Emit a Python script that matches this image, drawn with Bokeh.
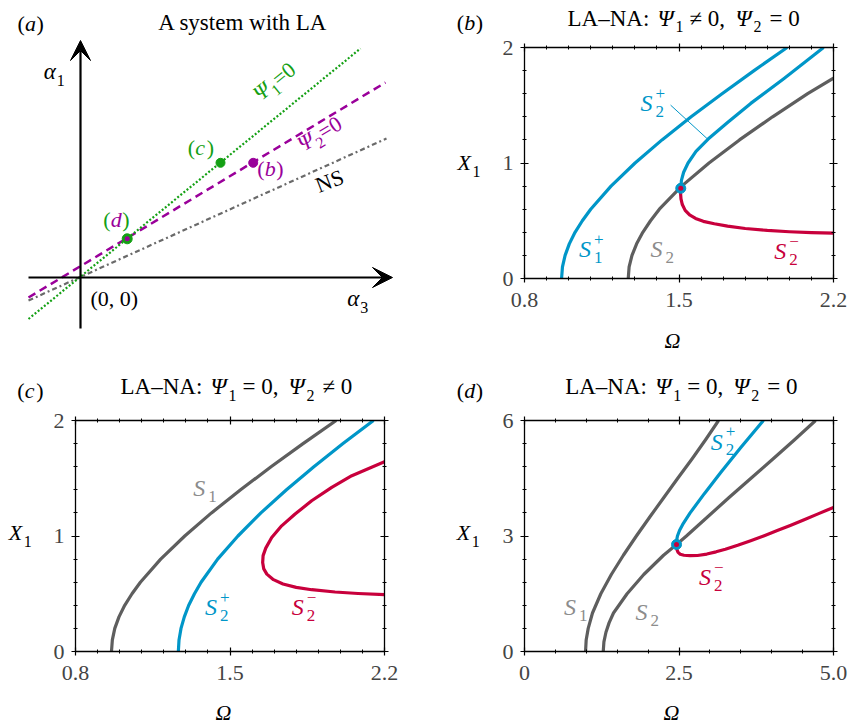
import math
from bokeh.plotting import figure
from bokeh.models import (Range1d, LinearAxis, FixedTicker, CustomJSTickFormatter,
                          Label, Arrow, VeeHead, Spacer)
from bokeh.layouts import row, column
from bokeh.embed import file_html
from bokeh.resources import INLINE

FONT = "Liberation Serif"
BLUE = "#0096c8"
RED = "#c8003c"
DGRAY = "#5e5e5e"
LGRAY = "#8c8c8c"
GREEN = "#14a014"
PURPLE = "#9a009a"
NSGRAY = "#6a6a6a"

# ---------------- data ----------------
# (a) schematic parameter plane (alpha3 horizontal, alpha1 vertical)
axis_alpha3 = [-0.52, 3.12]
axis_alpha1 = [-0.51, 2.37]
psi1_alpha3 = [-0.52, 2.80]
psi1_alpha1 = [-0.415, 2.29]
psi2_alpha3 = [-0.52, 3.05]
psi2_alpha1 = [-0.20, 1.95]
ns_alpha3 = [-0.52, 3.06]
ns_alpha1 = [-0.23, 1.39]
case_b = [1.727, 1.147]
case_c = [1.400, 1.147]
case_d = [0.467, 0.387]

# (b) LA-NA: Psi1 != 0, Psi2 = 0
b_S1p_X = [0, 0.1, 0.2, 0.3, 0.4, 0.5, 0.6, 0.8, 1.0, 1.2, 1.4, 1.6, 1.8, 2.0]
b_S1p_W = [0.968, 0.972, 0.984, 1.003, 1.029, 1.062, 1.100, 1.192, 1.301, 1.423, 1.555, 1.695, 1.840, 1.990]
b_S2_X = [0, 0.1, 0.2, 0.3, 0.4, 0.5, 0.6, 0.8, 1.0, 1.2, 1.4, 1.6, 1.735]
b_S2_W = [1.270, 1.274, 1.287, 1.308, 1.336, 1.371, 1.411, 1.512, 1.636, 1.774, 1.924, 2.083, 2.200]
b_S2p_X = [0.781, 0.85, 0.92, 1.0, 1.1, 1.207, 1.35, 1.516, 1.732, 2.0]
b_S2p_W = [1.508, 1.511, 1.521, 1.541, 1.577, 1.632, 1.720, 1.825, 1.976, 2.155]
b_S2m_W = [1.508, 1.507, 1.509, 1.515, 1.528, 1.548, 1.575, 1.61, 1.66, 1.72, 1.80, 1.90, 2.0, 2.1, 2.2]
b_S2m_X = [0.781, 0.74, 0.69, 0.64, 0.59, 0.55, 0.52, 0.495, 0.474, 0.453, 0.433, 0.416, 0.405, 0.397, 0.392]
b_junction = [1.508, 0.781]
b_leader_W = [1.462, 1.632]
b_leader_X = [1.501, 1.203]

# (c) LA-NA: Psi1 = 0, Psi2 != 0
c_S1_X = [0, 0.1, 0.2, 0.3, 0.4, 0.5, 0.6, 0.8, 1.0, 1.2, 1.4, 1.6, 1.8, 2.0]
c_S1_W = [0.963, 0.967, 0.978, 0.997, 1.023, 1.056, 1.094, 1.186, 1.295, 1.416, 1.548, 1.686, 1.831, 1.981]
c_S2p_X = [0, 0.1, 0.2, 0.3, 0.4, 0.5, 0.6, 0.8, 1.0, 1.2, 1.4, 1.6, 1.8, 2.0]
c_S2p_W = [1.266, 1.269, 1.278, 1.293, 1.313, 1.339, 1.369, 1.444, 1.536, 1.640, 1.756, 1.880, 2.012, 2.150]
c_S2m_W = [2.2, 2.052, 1.961, 1.870, 1.795, 1.734, 1.689, 1.662, 1.650, 1.648, 1.653, 1.667,
           1.697, 1.74, 1.80, 1.87, 1.976, 2.08, 2.2]
c_S2m_X = [1.644, 1.522, 1.421, 1.305, 1.190, 1.088, 0.987, 0.895, 0.83, 0.77, 0.715, 0.670,
           0.622, 0.585, 0.555, 0.535, 0.515, 0.502, 0.492]

# (d) LA-NA: Psi1 = 0, Psi2 = 0
d_S1_X = [0, 0.3, 0.6, 1.0, 1.5, 2.0, 2.5, 3.0, 3.5, 4.0, 4.5, 5.0, 5.5, 6.0]
d_S1_W = [0.988, 0.998, 1.031, 1.100, 1.235, 1.405, 1.600, 1.810, 2.030, 2.255, 2.480, 2.710, 2.930, 3.140]
d_S2_X = [0, 0.25, 0.5, 0.75, 1.0, 1.5, 2.0, 2.5, 2.78, 3.0, 3.5, 4.0, 4.5, 5.0, 5.5, 6.0]
d_S2_W = [1.274, 1.285, 1.318, 1.370, 1.440, 1.660, 1.930, 2.250, 2.460, 2.620, 2.965, 3.310,
          3.665, 4.020, 4.370, 4.710]
d_S2p_X = [2.78, 2.9, 3.0, 3.15, 3.3, 3.6, 4.1, 4.65, 5.3, 6.0]
d_S2p_W = [2.460, 2.463, 2.475, 2.510, 2.560, 2.680, 2.910, 3.175, 3.500, 3.866]
d_S2m_W = [2.46, 2.462, 2.468, 2.485, 2.52, 2.58, 2.68, 2.8, 2.95, 3.1, 3.25, 3.45, 3.66, 3.88,
           4.09, 4.3, 4.525, 4.75, 5.0]
d_S2m_X = [2.78, 2.72, 2.64, 2.575, 2.525, 2.50, 2.49, 2.494, 2.531, 2.589, 2.657, 2.759, 2.877,
           3.009, 3.140, 3.275, 3.424, 3.575, 3.744]
d_junction = [2.46, 2.78]

# ticks
bc_xticks = [0.8, 1.5, 2.2]
bc_xminor = [0.9, 1.0, 1.1, 1.2, 1.3, 1.4, 1.6, 1.7, 1.8, 1.9, 2.0, 2.1]
bc_yticks = [0, 1, 2]
bc_yminor = [0.2, 0.4, 0.6, 0.8, 1.2, 1.4, 1.6, 1.8]
d_xticks = [0, 2.5, 5.0]
d_xminor = [0.5, 1.0, 1.5, 2.0, 3.0, 3.5, 4.0, 4.5]
d_yticks = [0, 3, 6]
d_yminor = [0.6, 1.2, 1.8, 2.4, 3.6, 4.2, 4.8, 5.4]

MID = 0.30  # distance from baseline to the vertical middle of a text, in em


# ---------------- helpers ----------------
def rich(p, x, y, pieces, angle_deg=0.0):
    """pieces: (dx, dy) offsets in px of each baseline start, relative to (x, y)."""
    a = math.radians(angle_deg)
    ca, sa = math.cos(a), math.sin(a)
    for dx, dy, txt, size, style, col in pieces:
        dyc = dy + MID * size
        p.add_layout(Label(x=x, y=y, x_offset=dx * ca - dyc * sa, y_offset=dx * sa + dyc * ca,
                           text=txt, angle=a, text_font=FONT, text_font_size=f"{size}px",
                           text_font_style=style, text_color=col, text_align="left",
                           text_baseline="middle"))


def s_label(p, x, y, sub, sup, col):
    pieces = [(0, 0, "S", 24, "italic", col), (15, -6, sub, 17, "normal", col)]
    if sup:
        pieces.append((15, 12, sup, 17, "normal", col))
    rich(p, x, y, pieces)


def paren_label(p, x, y, letter, col="black", lcol=None, size=22):
    rich(p, x, y, [(0, 0, "(", size, "normal", col),
                   (7.5, 0, letter, size, "italic", lcol or col),
                   (19, 0, ")", size, "normal", col)])


def title_label(p, x, y, rel1, rel2, drop=7):
    rich(p, x, y, [(0, 0, "LA\u2013NA:", 23, "normal", "black"),
                   (90, 0, "\u03a8", 23, "italic", "black"),
                   (108, -drop, "1", 16, "normal", "black"),
                   (122, 0, rel1 + " 0,", 23, "normal", "black"),
                   (168, 0, "\u03a8", 23, "italic", "black"),
                   (186, -drop, "2", 16, "normal", "black"),
                   (202, 0, rel2 + " 0", 23, "normal", "black")])


def x1_label(p, x, y):
    rich(p, x, y, [(0, 0, "X", 22, "italic", "black"), (15, -7, "1", 16, "normal", "black")])


def omega_label(p, x, y):
    rich(p, x, y, [(0, 0, "\u03a9", 22, "italic", "black")])


def bare(w, h, xr=None, yr=None):
    s = figure(width=w, height=h, x_range=Range1d(*(xr or (0, w))), y_range=Range1d(*(yr or (0, h))),
               output_backend="svg", toolbar_location=None, tools="",
               x_axis_location=None, y_axis_location=None,
               min_border=0, min_border_left=0, min_border_right=0,
               min_border_top=0, min_border_bottom=0)
    s.grid.visible = False
    s.outline_line_color = None
    return s


def style_axis(ax, labels, fmt_code, standoff):
    ax.axis_line_width = 1.3
    ax.major_tick_in = 4
    ax.major_tick_out = 4
    ax.minor_tick_in = 2
    ax.minor_tick_out = 2
    ax.major_tick_line_width = 1.2
    ax.minor_tick_line_width = 1.0
    ax.major_label_text_font = FONT
    if labels:
        ax.major_label_text_font_size = "22px"
        ax.major_label_standoff = standoff
        ax.formatter = CustomJSTickFormatter(code=fmt_code)
    else:
        ax.major_label_text_font_size = "1px"
        ax.major_label_text_color = None
        ax.major_label_standoff = 0
        ax.formatter = CustomJSTickFormatter(code="return ''")


def panel(w, h, xr, yr, xt, xm, yt, ym, xfmt, borders):
    l, r, t, b = borders
    p = figure(width=w, height=h, x_range=Range1d(*xr), y_range=Range1d(*yr),
               output_backend="svg", toolbar_location=None, tools="",
               min_border_left=l, min_border_right=r, min_border_top=t, min_border_bottom=b)
    p.grid.visible = False
    p.outline_line_color = None
    xa = p.below[0]
    ya = p.left[0]
    xa.ticker = FixedTicker(ticks=xt, minor_ticks=xm)
    ya.ticker = FixedTicker(ticks=yt, minor_ticks=ym)
    style_axis(xa, True, xfmt, 10)
    style_axis(ya, True, "return tick.toFixed(0)", 7)
    top = LinearAxis(ticker=FixedTicker(ticks=xt, minor_ticks=xm))
    right = LinearAxis(ticker=FixedTicker(ticks=yt, minor_ticks=ym))
    style_axis(top, False, "", 0)
    style_axis(right, False, "", 0)
    p.add_layout(top, "above")
    p.add_layout(right, "right")
    return p


def left_strip(w, total_h, top_gap, strip_h, x, y_up):
    s = bare(w, strip_h)
    x1_label(s, x, y_up)
    return column(Spacer(width=w, height=top_gap), s,
                  Spacer(width=w, height=total_h - top_gap - strip_h))


LW = 3.2

# ---------------- panel (a) ----------------
pa = bare(426, 366, (-0.80, 3.46), (-0.89, 2.77))
pa.line(ns_alpha3, ns_alpha1, color=NSGRAY, line_width=2.2, line_dash="5 3 2 3")
pa.line(psi2_alpha3, psi2_alpha1, color=PURPLE, line_width=2.5, line_dash="8 5")
pa.line(psi1_alpha3, psi1_alpha1, color=GREEN, line_width=2.2, line_dash="2 2")
pa.add_layout(Arrow(end=VeeHead(size=20, fill_color="black", line_color="black"),
                    x_start=axis_alpha3[0], y_start=0, x_end=axis_alpha3[1], y_end=0,
                    line_width=2.2, line_color="black"))
pa.add_layout(Arrow(end=VeeHead(size=20, fill_color="black", line_color="black"),
                    x_start=0, y_start=axis_alpha1[0], x_end=0, y_end=axis_alpha1[1],
                    line_width=2.2, line_color="black"))
pa.scatter([case_c[0]], [case_c[1]], marker="circle", size=9, fill_color=GREEN, line_color=GREEN)
pa.scatter([case_b[0]], [case_b[1]], marker="circle", size=9, fill_color=PURPLE, line_color=PURPLE)
pa.scatter([case_d[0]], [case_d[1]], marker="circle", size=10, fill_color=GREEN, line_color=GREEN)
pa.scatter([case_d[0]], [case_d[1]], marker="circle", size=5, fill_color=PURPLE, line_color=None)

paren_label(pa, -0.63, 2.477, "a")
rich(pa, 0.778, 2.477, [(0, 0, "A system with LA", 23, "normal", "black")])
rich(pa, -0.367, 1.99, [(0, 0, "\u03b1", 23, "italic", "black"), (13, -7, "1", 16, "normal", "black")])
rich(pa, 2.667, -0.28, [(0, 0, "\u03b1", 23, "italic", "black"), (13, -7, "3", 16, "normal", "black")])
rich(pa, 0.10, -0.28, [(0, 0, "(0, 0)", 22, "normal", "black")])
rich(pa, 1.795, 1.761, [(0, 0, "\u03a8", 22, "italic", GREEN), (16, -6, "1", 16, "normal", GREEN),
                        (24, 0, "=0", 22, "normal", GREEN)], angle_deg=39)
rich(pa, 2.22, 1.26, [(0, 0, "\u03a8", 22, "italic", PURPLE), (16, -6, "2", 16, "normal", PURPLE),
                      (24, 0, "=0", 22, "normal", PURPLE)], angle_deg=31)
rich(pa, 2.383, 0.853, [(0, 0, "NS", 22, "normal", "black")], angle_deg=21)
paren_label(pa, 1.073, 1.237, "c", GREEN)
paren_label(pa, 1.767, 1.027, "b", PURPLE)
paren_label(pa, 0.227, 0.51, "d", GREEN, PURPLE)

# ---------------- panel (b) ----------------
pb = panel(354, 289, (0.8, 2.2), (0, 2), bc_xticks, bc_xminor, bc_yticks, bc_yminor,
           "return tick.toFixed(1)", (28, 17, 13, 45))
pb.line(b_S1p_W, b_S1p_X, color=BLUE, line_width=LW, line_join="round")
pb.line(b_S2_W, b_S2_X, color=DGRAY, line_width=LW, line_join="round")
pb.line(b_S2p_W, b_S2p_X, color=BLUE, line_width=LW, line_join="round")
pb.line(b_S2m_W, b_S2m_X, color=RED, line_width=LW, line_join="round")
pb.line(b_leader_W, b_leader_X, color=BLUE, line_width=1.0)
pb.scatter([b_junction[0]], [b_junction[1]], marker="circle", size=10, fill_color=BLUE, line_color=BLUE)
pb.scatter([b_junction[0]], [b_junction[1]], marker="circle", size=5, fill_color=RED, line_color=None)
s_label(pb, 1.047, 0.190, "1", "+", BLUE)
s_label(pb, 1.326, 1.458, "2", "+", BLUE)
s_label(pb, 1.371, 0.190, "2", None, LGRAY)
s_label(pb, 1.931, 0.176, "2", "\u2212", RED)
tb = bare(424, 34)
paren_label(tb, 30.3, 5.8, "b")
title_label(tb, 141, 9.0, "\u2260", "=", drop=5.5)
lb = left_strip(70, 289, 110, 50, 31, 25.7)
bb = bare(424, 43)
omega_label(bb, 238, 19.3)
block_b = column(tb, row(lb, pb), bb)

# ---------------- panel (c) ----------------
pc = panel(381, 289, (0.8, 2.2), (0, 2), bc_xticks, bc_xminor, bc_yticks, bc_yminor,
           "return tick.toFixed(1)", (30, 42, 13, 45))
pc.line(c_S1_W, c_S1_X, color=DGRAY, line_width=LW, line_join="round")
pc.line(c_S2p_W, c_S2p_X, color=BLUE, line_width=LW, line_join="round")
pc.line(c_S2m_W, c_S2m_X, color=RED, line_width=LW, line_join="round")
s_label(pc, 1.334, 1.349, "1", None, LGRAY)
s_label(pc, 1.387, 0.321, "2", "+", BLUE)
s_label(pc, 1.780, 0.321, "2", "\u2212", RED)
tc = bare(426, 41)
paren_label(tc, 16.7, 10, "c")
title_label(tc, 120, 14.3, "=", "\u2260")
lc = left_strip(45, 289, 110, 50, 8.3, 28.3)
bc = bare(426, 30)
omega_label(bc, 215, 7.3)
block_c = column(tc, row(lc, pc), bc)

# ---------------- panel (d) ----------------
pd = panel(354, 289, (0, 5), (0, 6), d_xticks, d_xminor, d_yticks, d_yminor,
           "return tick == 0 ? '0' : tick.toFixed(1)", (28, 17, 13, 45))
pd.line(d_S1_W, d_S1_X, color=DGRAY, line_width=LW, line_join="round")
pd.line(d_S2_W, d_S2_X, color=DGRAY, line_width=LW, line_join="round")
pd.line(d_S2p_W, d_S2p_X, color=BLUE, line_width=LW, line_join="round")
pd.line(d_S2m_W, d_S2m_X, color=RED, line_width=LW, line_join="round")
pd.scatter([d_junction[0]], [d_junction[1]], marker="circle", size=10, fill_color=BLUE, line_color=BLUE)
pd.scatter([d_junction[0]], [d_junction[1]], marker="circle", size=5, fill_color=RED, line_color=None)
s_label(pd, 0.638, 0.964, "1", None, LGRAY)
s_label(pd, 1.798, 0.833, "2", None, LGRAY)
s_label(pd, 3.013, 5.26, "2", "+", BLUE)
s_label(pd, 2.825, 1.745, "2", "\u2212", RED)
td = bare(424, 41)
paren_label(td, 30.3, 10, "d")
title_label(td, 138.7, 14.3, "=", "=")
ld = left_strip(70, 289, 110, 50, 30.3, 28.3)
bd = bare(424, 30)
omega_label(bd, 237, 7.3)
block_d = column(td, row(ld, pd), bd)

page = column(row(pa, block_b), row(block_c, block_d))
open("out.html", "w").write(file_html(page, INLINE))
